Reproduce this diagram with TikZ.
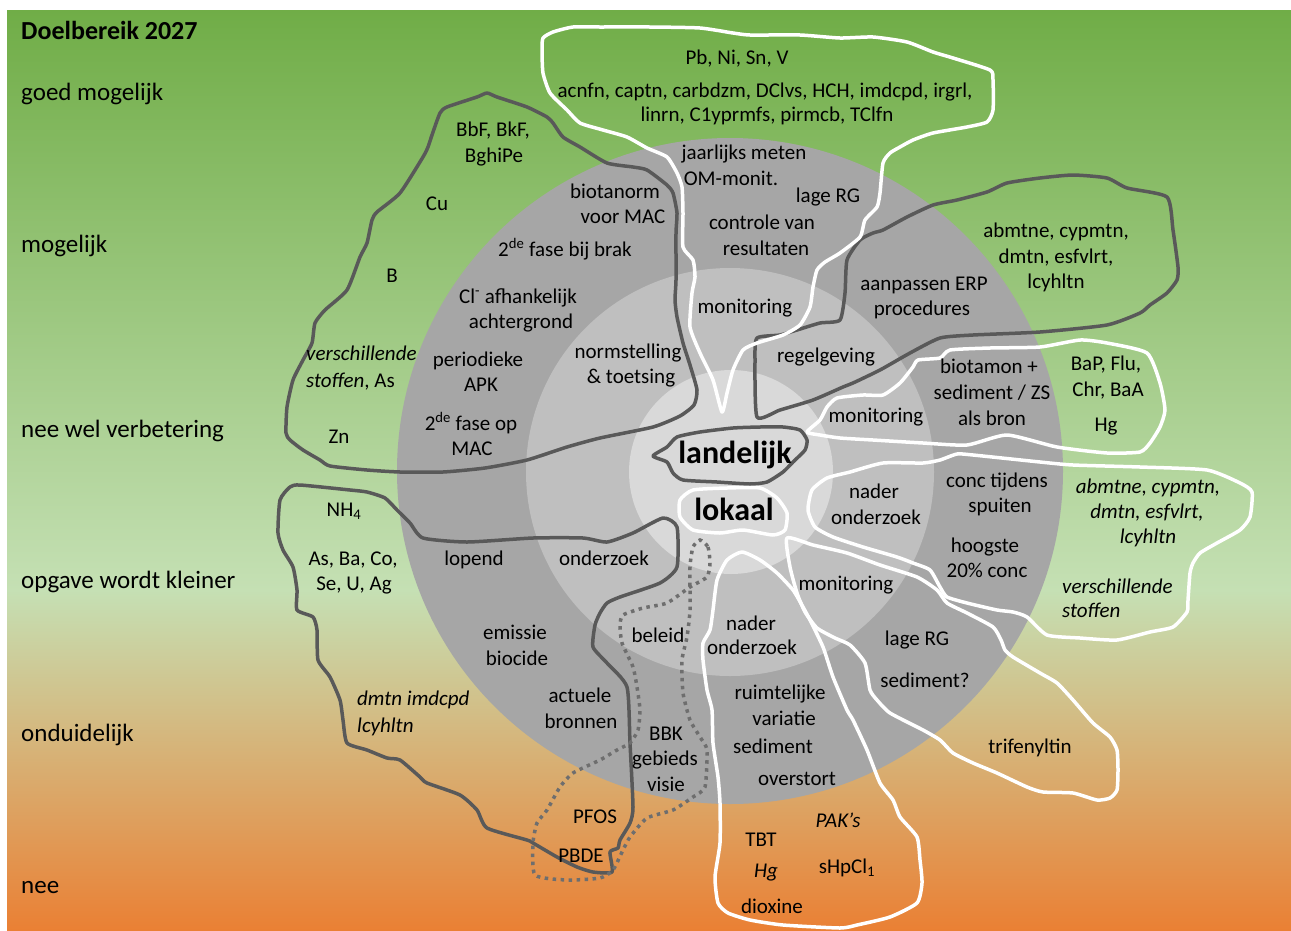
\documentclass[tikz,border=0pt]{standalone}
\usepackage{fontspec}
\setmainfont{Carlito}
\definecolor{gtop}{RGB}{112,173,71}
\definecolor{gmid}{RGB}{197,224,180}
\definecolor{gbot}{RGB}{234,128,52}
\definecolor{ringa}{RGB}{166,166,166}
\definecolor{ringb}{RGB}{191,191,191}
\definecolor{ringc}{RGB}{217,217,217}
\definecolor{darkline}{RGB}{89,89,89}
\definecolor{dotline}{RGB}{110,110,110}
\begin{document}
\begin{tikzpicture}[x=1pt,y=-1pt,
  darkblob/.style={draw=darkline,line width=3.5pt,line join=round},
  whiteblob/.style={draw=white,line width=3.5pt,line join=round},
  dotblob/.style={draw=dotline,line width=3.5pt,dash pattern=on 3.5pt off 4.5pt},
  lbl/.style={font=\fontsize{25}{30}\selectfont,anchor=base west,inner sep=0pt},
  txt/.style={font=\fontsize{21}{25}\selectfont,anchor=base,inner sep=0pt},
  itxt/.style={txt,font=\fontsize{21}{25}\selectfont\itshape},
  big/.style={font=\fontsize{32}{36}\selectfont\bfseries,anchor=base,inner sep=0pt}]
\useasboundingbox (0,0) rectangle (1291,930);
\fill[white] (0,0) rectangle (1291,930);
\fill[top color=gtop,bottom color=gmid] (7,10) rectangle (1291,591);
\fill[top color=gmid,bottom color=gbot] (7,590) rectangle (1291,930);
% rings
\fill[ringa] (730,471) circle[radius=333pt];
\fill[ringb] (730,472) circle[radius=204pt];
\fill[ringc] (731,472) circle[radius=102pt];

% dark upper-left blob
\draw[darkblob] plot[smooth cycle,tension=0.35] coordinates {
(487,93) (497,97) (527,107) (547,117) (553,123) (563,137) (580,147) (607,163)
(633,167) (647,170) (667,185) (673,193) (677,213) (676,233) (676,280) (675,300)
(677,317) (683,343) (690,365) (697,390) (694,405) (680,416) (653,427) (600,438)
(567,447) (527,460) (485,468) (443,472) (400,472) (367,470) (330,466) (320,460)
(303,450) (290,440) (286,433) (287,407) (293,380) (303,360) (312,343) (315,323)
(325,310) (347,290) (360,257) (367,243) (372,220) (377,212) (400,193) (423,157)
(428,147) (432,135) (440,113) (447,107) (477,97)};
% dark right-top blob
\draw[darkblob] plot[smooth cycle,tension=0.35] coordinates {
(757,417) (755,360) (757,338) (780,335) (797,330) (820,323) (840,320) (845,293)
(847,260) (860,240) (873,233) (883,230) (907,217) (933,205) (957,200) (987,192)
(1007,183) (1040,178) (1073,175) (1107,178) (1127,188) (1167,197) (1173,230)
(1178,267) (1177,280) (1167,293) (1150,305) (1140,313) (1107,325) (1040,332)
(973,335) (940,338) (910,353) (880,370) (853,383) (843,387) (813,400) (780,410)};
% dark lower-left blob
\draw[darkblob] plot[smooth cycle,tension=0.35] coordinates {
(423,538) (467,542) (533,538) (583,538) (607,542) (633,533) (663,518) (677,527)
(677,567) (660,583) (620,597) (607,603) (600,613) (595,625) (593,647) (607,663)
(627,687) (630,743) (633,807) (630,823) (620,840) (618,848) (610,852) (612,872)
(593,872) (577,867) (557,857) (533,843) (527,840) (487,828) (477,810) (460,795)
(427,783) (420,777) (400,760) (387,758) (367,750) (347,743) (343,720) (340,700)
(330,677) (318,660) (317,630) (313,617) (297,610) (297,590) (293,567) (283,550)
(278,533) (280,500) (290,487) (300,485) (350,490) (367,492) (385,498) (397,510)
(410,523)};
% landelijk
\draw[darkblob] plot[smooth cycle,tension=0.35] coordinates {
(653,456) (667,447) (677,437) (700,432) (733,428) (760,427) (783,427) (800,430)
(807,440) (805,450) (793,462) (783,472) (767,482) (750,484) (717,482) (683,480)
(673,473) (667,462)};
% dotted
\draw[dotblob] plot[smooth cycle,tension=0.35] coordinates {
(700,540) (708,547) (710,563) (707,577) (690,587) (667,603) (643,608) (623,615)
(620,625) (622,643) (633,667) (637,687) (640,710) (638,730) (630,743) (617,750)
(600,760) (573,773) (560,787) (547,810) (537,823) (533,843) (535,875) (567,880)
(600,878) (613,870) (623,850) (630,837) (647,818) (673,810) (693,797) (705,787)
(707,750) (700,737) (690,720) (683,693) (682,660) (687,637) (690,610) (690,567)
(693,547)};
% white top
\draw[whiteblob] plot[smooth cycle,tension=0.35] coordinates {
(543,38) (553,32) (573,27) (600,27) (650,27) (700,28) (733,33) (750,35) (800,35)
(840,38) (873,37) (907,42) (933,52) (953,58) (990,70) (993,80) (993,110) (987,122)
(967,127) (933,133) (913,140) (900,147) (890,153) (883,163) (880,193) (877,207)
(865,220) (860,237) (840,253) (825,262) (817,270) (813,287) (810,307) (800,325)
(783,335) (757,343) (743,350) (733,370) (727,393) (722,412) (713,380) (700,353)
(690,327) (692,293) (695,277) (693,260) (683,247) (683,213) (682,187) (677,173)
(667,157) (647,148) (627,137) (603,130) (580,123) (567,110) (550,93) (543,73)
(542,50)};
% white biotamon
\draw[whiteblob] plot[smooth cycle,tension=0.35] coordinates {
(807,432) (820,420) (827,407) (837,398) (863,395) (883,395) (900,383) (913,367)
(918,360) (940,358) (950,350) (990,348) (1040,347) (1080,340) (1107,343)
(1147,353) (1160,383) (1165,410) (1160,427) (1150,443) (1140,452) (1107,453)
(1057,447) (1007,435) (967,445) (923,443) (873,440) (840,438) (820,435)};
% white conc
\draw[whiteblob] plot[smooth cycle,tension=0.35] coordinates {
(808,510) (812,490) (827,478) (850,472) (883,463) (923,463) (940,460) (957,454)
(973,455) (1040,462) (1073,465) (1140,467) (1207,470) (1240,483) (1252,492)
(1250,517) (1240,530) (1217,543) (1200,553) (1193,563) (1190,573) (1188,600)
(1187,612) (1173,627) (1150,632) (1117,640) (1080,638) (1047,635) (1027,617)
(1013,612) (997,610) (967,603) (947,597) (940,587) (930,570) (913,563) (897,557)
(863,547) (833,537) (815,527)};
% white trifenyltin
\draw[whiteblob] plot[smooth cycle,tension=0.35] coordinates {
(787,538) (813,545) (847,553) (880,565) (917,577) (937,590) (947,603) (967,613)
(993,627) (1001,640) (1005,650) (1013,657) (1040,673) (1057,683) (1073,700)
(1093,723) (1110,737) (1117,750) (1118,770) (1117,790) (1110,798) (1097,800)
(1073,793) (1043,792) (1027,787) (997,773) (973,763) (953,753) (940,740)
(923,730) (890,713) (877,700) (870,690) (865,663) (850,645) (835,638) (817,628)
(805,612) (797,593) (790,567)};
% white bottom
\draw[whiteblob] plot[smooth cycle,tension=0.35] coordinates {
(742,552) (760,560) (777,573) (793,590) (803,607) (810,620) (823,647) (833,677)
(847,710) (853,720) (867,750) (880,783) (893,800) (900,817) (917,837) (920,860)
(922,883) (917,903) (890,917) (857,925) (840,928) (783,925) (750,920) (728,913)
(718,903) (715,877) (720,843) (720,803) (718,777) (713,743) (712,710) (707,690)
(703,660) (703,643) (710,630) (713,610) (717,580) (727,560)};
% lokaal
\draw[whiteblob] plot[smooth cycle,tension=0.35] coordinates {
(680,500) (693,490) (727,488) (760,488) (777,498) (787,513) (785,530) (773,535)
(743,530) (720,533) (693,530) (680,517)};

% left labels
\node[lbl,font=\fontsize{26}{30}\selectfont\bfseries] (title) at (21,39) {Doelbereik 2027};
\node[lbl] (l1) at (21,100) {goed mogelijk};
\node[lbl] (l2) at (21,252) {mogelijk};
\node[lbl] (l3) at (21,437) {nee wel verbetering};
\node[lbl] (l4) at (21,588) {opgave wordt kleiner};
\node[lbl] (l5) at (21,741) {onduidelijk};
\node[lbl] (l6) at (21,893) {nee};

% texts
\node[txt] (pb) at (737,64) {Pb, Ni, Sn, V};
\node[txt] (acn) at (765,97) {acnfn, captn, carbdzm, DClvs, HCH, imdcpd, irgrl,};
\node[txt] (lin) at (767,121) {linrn, C1yprmfs, pirmcb, TClfn};
\node[txt] (jaar) at (744,159) {jaarlijks meten};
\node[txt] (om) at (731,185) {OM-monit.};
\node[txt] (lrga) at (828,202) {lage RG};
\node[txt] (ctrl) at (762,229) {controle van};
\node[txt] (res) at (766,255) {resultaten};
\node[txt] (bio) at (615,198) {biotanorm};
\node[txt] (vmac) at (623,223) {voor MAC};
\node[txt] (fasea) at (565,256) {2\textsuperscript{de} fase bij brak};
\node[txt] (cl) at (518,303) {Cl\textsuperscript{-} afhankelijk};
\node[txt] (acht) at (521,328) {achtergrond};
\node[txt] (per) at (478,366) {periodieke};
\node[txt] (apk) at (481,391) {APK};
\node[txt] (faseb) at (471,430) {2\textsuperscript{de} fase op};
\node[txt] (mac) at (472,455) {MAC};
\node[txt] (norm) at (628,358) {normstelling};
\node[txt] (toets) at (631,383) {\& toetsing};
\node[big] (lan) at (735,463) {landelijk};
\node[big] (lok) at (734,520) {lokaal};
\node[txt] (lop) at (474,565) {lopend};
\node[txt] (onda) at (604,565) {onderzoek};
\node[txt] (mona) at (745,313) {monitoring};
\node[txt] (reg) at (826,362) {regelgeving};
\node[txt] (aan) at (924,290) {aanpassen ERP};
\node[txt] (proc) at (922,315) {procedures};
\node[txt] (abma) at (1056,237) {abmtne, cypmtn,};
\node[txt] (dmta) at (1056,263) {dmtn, esfvlrt,};
\node[txt] (lcya) at (1056,288) {lcyhltn};
\node[txt] (monb) at (876,422) {monitoring};
\node[txt] (biot) at (989,373) {biotamon +};
\node[txt] (seda) at (992,399) {sediment / ZS};
\node[txt] (als) at (992,425) {als bron};
\node[txt] (bap) at (1106,370) {BaP, Flu,};
\node[txt] (chr) at (1108,396) {Chr, BaA};
\node[txt] (hga) at (1106,431) {Hg};
\node[txt] (nada) at (874,498) {nader};
\node[txt] (ondb) at (876,524) {onderzoek};
\node[txt] (conc) at (997,487) {conc tijdens};
\node[txt] (spu) at (1000,512) {spuiten};
\node[txt] (hoog) at (985,552) {hoogste};
\node[txt] (twc) at (987,577) {20\% conc};
\node[itxt] (abmb) at (1148,493) {abmtne, cypmtn,};
\node[itxt] (dmtb) at (1147,518) {dmtn, esfvlrt,};
\node[itxt] (lcyb) at (1148,543) {lcyhltn};
\node[itxt,anchor=base west] (versb) at (1062,593) {verschillende};
\node[itxt,anchor=base west] (stofb) at (1062,617) {stoffen};
\node[txt] (monc) at (846,590) {monitoring};
\node[txt] (lrgb) at (917,645) {lage RG};
\node[txt] (sedq) at (925,687) {sediment?};
\node[txt] (tri) at (1030,753) {trifenyltin};
\node[txt] (nadb) at (751,630) {nader};
\node[txt] (ondc) at (752,654) {onderzoek};
\node[txt] (ruim) at (780,699) {ruimtelijke};
\node[txt] (var) at (784,725) {variatie};
\node[txt] (sedb) at (773,753) {sediment};
\node[txt] (over) at (797,785) {overstort};
\node[txt] (tbt) at (761,846) {TBT};
\node[itxt] (hgb) at (766,877) {Hg};
\node[txt] (diox) at (772,913) {dioxine};
\node[itxt] (pak) at (838,827) {PAK’s};
\node[txt] (shp) at (847,873) {sHpCl\textsubscript{1}};
\node[txt] (bel) at (658,642) {beleid};
\node[txt] (bbk) at (666,740) {BBK};
\node[txt] (geb) at (665,765) {gebieds};
\node[txt] (vis) at (666,791) {visie};
\node[txt] (pfos) at (595,823) {PFOS};
\node[txt] (pbde) at (581,862) {PBDE};
\node[txt] (emi) at (515,639) {emissie};
\node[txt] (bioc) at (517,665) {biocide};
\node[txt] (act) at (580,702) {actuele};
\node[txt] (bron) at (581,728) {bronnen};
\node[itxt,anchor=base west] (dmtc) at (357,705) {dmtn imdcpd};
\node[itxt,anchor=base west] (lcyc) at (357,732) {lcyhltn};
\node[txt] (nh) at (344,516) {NH\textsubscript{4}};
\node[txt] (asba) at (353,565) {As, Ba, Co,};
\node[txt] (seu) at (354,590) {Se, U, Ag};
\node[itxt,anchor=base west] (versa) at (306,360) {verschillende};
\node[txt,anchor=base west] (stofa) at (306,387) {\textit{stoffen}, As};
\node[txt] (zn) at (339,443) {Zn};
\node[txt] (bb) at (392,282) {B};
\node[txt] (cu) at (437,210) {Cu};
\node[txt] (bbf) at (493,136) {BbF, BkF,};
\node[txt] (bgh) at (494,162) {BghiPe};
\end{tikzpicture}
\end{document}
